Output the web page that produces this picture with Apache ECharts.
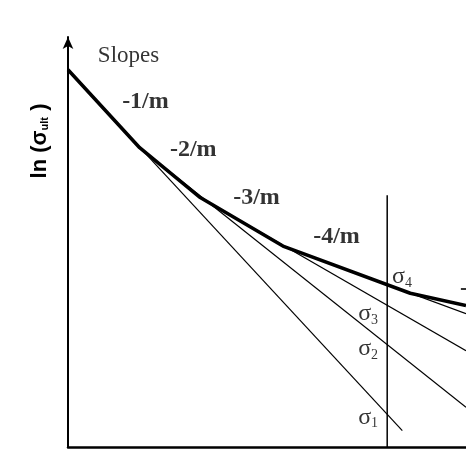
<!DOCTYPE html>
<html>
<head>
<meta charset="utf-8">
<script src="https://cdn.jsdelivr.net/npm/echarts@6/dist/echarts.min.js"></script>
<style>
html, body { margin: 0; padding: 0; background: #fff; }
#chart { width: 466px; height: 452px; }
</style>
</head>
<body>
<div id="chart"></div>
<script>
// piecewise envelope (thick line): x = ln(N), y = ln(sigma_ult)
var curveX = [0, 1.8, 3.3, 5.4, 8.6, 10];
var curveY = [9.2, 7.3, 6.1, 4.9, 3.75, 3.45];

// straight extensions of each segment (start, end)
var sigma1Line = [[0, 9.2], [8.4, 0.4]];
var sigma2Line = [[1.8, 7.3], [10, 0.97]];
var sigma3Line = [[3.3, 6.1], [10, 2.35]];
var sigma4Line = [[5.4, 4.9], [10, 3.25]];

// vertical cut
var cutX = 8.02;
var cutTop = 6.14;

// slope labels
var slopeText = ['-1/m', '-2/m', '-3/m', '-4/m', '-5/m'];
var slopeX = [1.36, 2.56, 4.15, 6.16, 9.85];
var slopeY = [8.43, 7.25, 6.09, 5.12, 3.86];

// sigma labels
var sigmaIdx = ['1', '2', '3', '4'];
var sigmaX = [7.29, 7.29, 7.29, 8.14];
var sigmaY = [0.72, 2.39, 3.24, 4.15];

var chart = echarts.init(document.getElementById('chart'));

var thin = { color: '#000', width: 1.2 };
function thinLine(pts) {
    return { type: 'line', data: pts, symbol: 'none', lineStyle: thin, silent: true };
}

var labelData = [];
labelData.push({ value: [0.75, 9.54], label: { formatter: 'Slopes', fontFamily: 'Liberation Serif', fontSize: 23, fontWeight: 'normal' } });
for (var i = 0; i < slopeText.length; i++) {
    labelData.push({ value: [slopeX[i], slopeY[i]], label: { formatter: slopeText[i], fontFamily: 'Liberation Serif', fontSize: 24, fontWeight: 'bold' } });
}
for (var j = 0; j < sigmaIdx.length; j++) {
    labelData.push({ value: [sigmaX[j], sigmaY[j]], label: { formatter: '{s|σ}{b|' + sigmaIdx[j] + '}' } });
}

var option = {
    animation: false,
    grid: { left: 68, right: 0, top: 37, bottom: 5 },
    xAxis: {
        type: 'value', min: 0, max: 10,
        axisLine: { onZero: false, lineStyle: { color: '#000', width: 2.5 } },
        axisTick: { show: false }, axisLabel: { show: false }, splitLine: { show: false }
    },
    yAxis: {
        type: 'value', min: 0, max: 10,
        axisLine: { show: true, symbol: ['none', 'arrow'], symbolSize: [8, 12], lineStyle: { color: '#000', width: 2 } },
        axisTick: { show: false }, axisLabel: { show: false }, splitLine: { show: false }
    },
    graphic: [{
        type: 'text', x: 40, y: 141, rotation: Math.PI / 2,
        style: {
            text: '{a|ln (σ}{u|ult}{a| )}',
            align: 'center', verticalAlign: 'middle',
            rich: {
                a: { fontFamily: 'Liberation Sans', fontWeight: 'bold', fontSize: 22, fill: '#000' },
                u: { fontFamily: 'Liberation Sans', fontWeight: 'bold', fontSize: 11, fill: '#000', padding: [10, 0, 0, 0] }
            }
        }
    }],
    series: [
        thinLine(sigma1Line),
        thinLine(sigma2Line),
        thinLine(sigma3Line),
        thinLine(sigma4Line),
        {
            type: 'line', symbol: 'none', silent: true,
            data: curveX.map(function (x, k) { return [x, curveY[k]]; }),
            lineStyle: { color: '#000', width: 3.5, join: 'round' }
        },
        {
            type: 'line', symbol: 'none', silent: true,
            data: [[cutX, 0], [cutX, cutTop]],
            lineStyle: { color: '#000', width: 1.5 }
        },
        {
            type: 'scatter', symbolSize: 0, silent: true,
            data: labelData,
            label: {
                show: true, position: 'inside', align: 'left', verticalAlign: 'middle', color: '#000',
                textBorderWidth: 0,
                rich: {
                    s: { fontFamily: 'Liberation Serif', fontSize: 24, color: '#000' },
                    b: { fontFamily: 'Liberation Serif', fontSize: 14, color: '#000', padding: [12, 0, 0, 0] }
                }
            }
        }
    ]
};
chart.setOption(option);
</script>
</body>
</html>
